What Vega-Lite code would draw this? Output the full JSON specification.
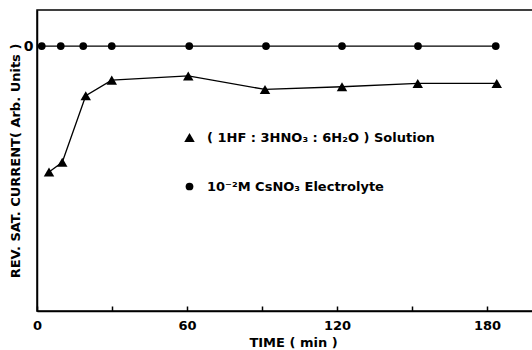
{
  "$schema": "https://vega.github.io/schema/vega-lite/v6.json",
  "width": 496,
  "height": 301,
  "autosize": "none",
  "padding": {"left": 37, "top": 10, "right": 0, "bottom": 39},
  "background": "white",
  "config": {
    "font": "DejaVu Sans",
    "view": {"stroke": "black", "strokeWidth": 1.5},
    "axis": {"grid": false, "domainColor": "black", "domainWidth": 1.5, "tickColor": "black", "labelColor": "black", "titleColor": "black", "labelFont": "DejaVu Sans", "titleFont": "DejaVu Sans", "labelFontWeight": "bold", "titleFontWeight": "bold", "labelFontSize": 13, "titleFontSize": 13}
  },
  "data": {"values": [
    {"series": "( 1HF : 3HNO₃ : 6H₂O ) Solution", "time": 4.8, "current": -4.18},
    {"series": "( 1HF : 3HNO₃ : 6H₂O ) Solution", "time": 10.1, "current": -3.86},
    {"series": "( 1HF : 3HNO₃ : 6H₂O ) Solution", "time": 19.5, "current": -1.65},
    {"series": "( 1HF : 3HNO₃ : 6H₂O ) Solution", "time": 29.9, "current": -1.13},
    {"series": "( 1HF : 3HNO₃ : 6H₂O ) Solution", "time": 60.5, "current": -0.99},
    {"series": "( 1HF : 3HNO₃ : 6H₂O ) Solution", "time": 91.2, "current": -1.44},
    {"series": "( 1HF : 3HNO₃ : 6H₂O ) Solution", "time": 122, "current": -1.35},
    {"series": "( 1HF : 3HNO₃ : 6H₂O ) Solution", "time": 152.3, "current": -1.24},
    {"series": "( 1HF : 3HNO₃ : 6H₂O ) Solution", "time": 183.9, "current": -1.24},
    {"series": "10⁻²M CsNO₃ Electrolyte", "time": 1.9, "current": 0},
    {"series": "10⁻²M CsNO₃ Electrolyte", "time": 9.5, "current": 0},
    {"series": "10⁻²M CsNO₃ Electrolyte", "time": 18.5, "current": 0},
    {"series": "10⁻²M CsNO₃ Electrolyte", "time": 29.9, "current": 0},
    {"series": "10⁻²M CsNO₃ Electrolyte", "time": 60.9, "current": 0},
    {"series": "10⁻²M CsNO₃ Electrolyte", "time": 91.6, "current": 0},
    {"series": "10⁻²M CsNO₃ Electrolyte", "time": 122, "current": 0},
    {"series": "10⁻²M CsNO₃ Electrolyte", "time": 152.4, "current": 0},
    {"series": "10⁻²M CsNO₃ Electrolyte", "time": 183.5, "current": 0}
  ]},
  "encoding": {
    "x": {"field": "time", "type": "quantitative",
      "scale": {"domain": [0, 198.4], "nice": false, "zero": false},
      "axis": {"title": "TIME ( min )", "values": [0, 30, 60, 90, 120, 150, 180], "tickSize": -5, "tickWidth": 1.5,
        "labelExpr": "datum.value % 60 === 0 ? datum.label : ''", "labelPadding": 13, "labelFlush": false,
        "titleX": 256, "titleY": 31, "titleBaseline": "middle", "titleAnchor": null}},
    "y": {"field": "current", "type": "quantitative",
      "scale": {"domain": [-8.8, 1.2], "nice": false, "zero": false},
      "axis": {"title": "REV. SAT. CURRENT( Arb. Units )", "values": [0], "ticks": false, "labelPadding": 4, "labelFontSize": 14, "titleX": -22, "titleBaseline": "middle"}}
  },
  "layer": [
    {"mark": {"type": "line", "color": "black", "strokeWidth": 1.3},
     "encoding": {"detail": {"field": "series"}}},
    {"mark": {"type": "point", "filled": true, "opacity": 1, "color": "black"},
     "encoding": {
       "shape": {"field": "series", "type": "nominal",
         "scale": {"domain": ["( 1HF : 3HNO₃ : 6H₂O ) Solution", "10⁻²M CsNO₃ Electrolyte"], "range": ["triangle-up", "circle"]},
         "legend": {"title": null, "orient": "none", "legendX": 146, "legendY": 121, "rowPadding": 35, "labelFont": "DejaVu Sans", "labelFontWeight": "bold", "labelFontSize": 13, "labelLimit": 400, "labelColor": "black", "labelOffset": 11, "symbolFillColor": "black", "symbolStrokeColor": "black", "symbolStrokeWidth": 0}},
       "size": {"field": "series", "type": "nominal",
         "scale": {"domain": ["( 1HF : 3HNO₃ : 6H₂O ) Solution", "10⁻²M CsNO₃ Electrolyte"], "range": [110, 60]},
         "legend": {"title": null, "orient": "none", "legendX": 146, "legendY": 121, "rowPadding": 35, "labelFont": "DejaVu Sans", "labelFontWeight": "bold", "labelFontSize": 13, "labelLimit": 400, "labelColor": "black", "labelOffset": 11, "symbolFillColor": "black", "symbolStrokeColor": "black", "symbolStrokeWidth": 0}}
     }}
  ]
}
